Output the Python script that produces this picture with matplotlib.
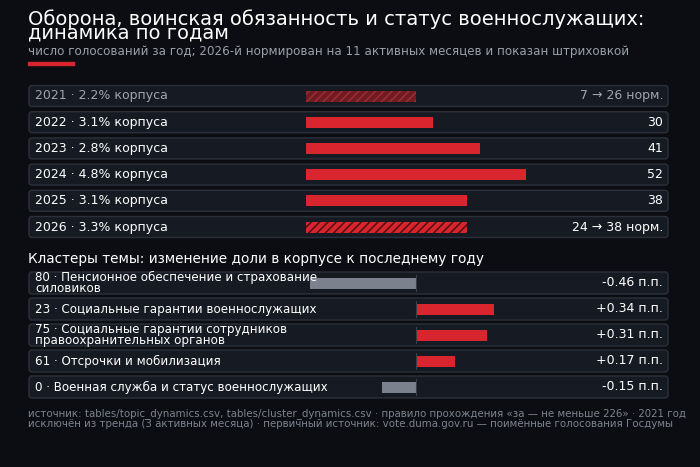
import matplotlib
matplotlib.use("Agg")
import matplotlib.pyplot as plt
from matplotlib.patches import FancyBboxPatch, Rectangle

plt.rcParams['font.family'] = ['DejaVu Sans']
plt.rcParams['hatch.linewidth'] = 1.2

years = ["2021", "2022", "2023", "2024", "2025", "2026"]
shares = ["2.2%", "3.1%", "2.8%", "4.8%", "3.1%", "3.3%"]
values = [26, 30, 41, 52, 38, 38]
labels_right = ["7 → 26 норм.", "30", "41", "52", "38", "24 → 38 норм."]
hatched = [True, False, False, False, False, True]

clusters = ["80 · Пенсионное обеспечение и страхование\nсиловиков",
            "23 · Социальные гарантии военнослужащих",
            "75 · Социальные гарантии сотрудников\nправоохранительных органов",
            "61 · Отсрочки и мобилизация",
            "0 · Военная служба и статус военнослужащих"]
deltas = [-0.46, 0.34, 0.31, 0.17, -0.15]
delta_labels = ["-0.46 п.п.", "+0.34 п.п.", "+0.31 п.п.", "+0.17 п.п.", "-0.15 п.п."]

BG = "#0b0d12"; BOX = "#161a22"; EDGE = "#2b303b"; RED = "#d9262e"; GRAY = "#7b828e"
fig = plt.figure(figsize=(7, 4.67), dpi=100, facecolor=BG)
ax = fig.add_axes([0, 0, 1, 1]); ax.set_xlim(0, 700); ax.set_ylim(467, 0); ax.axis('off')
ax.set_facecolor(BG)

ax.text(28, 19, "Оборона, воинская обязанность и статус военнослужащих:", color="white",
        fontsize=14, va="center")
ax.text(28, 33, "динамика по годам", color="white", fontsize=14, va="center")
ax.text(28, 51, "число голосований за год; 2026-й нормирован на 11 активных месяцев и показан штриховкой",
        color="#9aa0aa", fontsize=8.6, va="center")
ax.add_patch(Rectangle((28, 62), 46, 2.5, color=RED))

def box(y, h):
    ax.add_patch(FancyBboxPatch((29, y - h/2), 639, h, boxstyle="round,pad=0,rounding_size=3",
                                fc=BOX, ec=EDGE, lw=1))

x0 = 306; sc = 4.24
for i, (yr, s, v, lr, hh) in enumerate(zip(years, shares, values, labels_right, hatched)):
    y = 96 + i * 26.2
    box(y, 21)
    tc = "#a0a5ae" if i == 0 else "white"
    ax.text(35, y, f"{yr} · {s} корпуса", color=tc, fontsize=9, va="center")
    ax.text(663, y, lr, color=tc, fontsize=9, va="center", ha="right")
    if hh:
        fc = "#6e1c22" if i == 0 else RED
        hc = "#a02a31" if i == 0 else "#5a0f14"
        ax.barh(y, v * sc, left=x0, height=11, color=fc, hatch="////", edgecolor=hc, lw=0)
    else:
        ax.barh(y, v * sc, left=x0, height=11, color=RED, lw=0)

ax.text(28, 259, "Кластеры темы: изменение доли в корпусе к последнему году", color="white",
        fontsize=9.8, va="center")
z = 416; sc2 = 230
for i, (c, d, dl) in enumerate(zip(clusters, deltas, delta_labels)):
    y = 283 + i * 26
    box(y, 22)
    ax.text(35, y, c, color="white", fontsize=8.6, va="center", linespacing=0.85)
    ax.text(663, y, dl, color="white", fontsize=9, va="center", ha="right")
    ax.barh(y, d * sc2, left=z, height=11, color=RED if d > 0 else GRAY, lw=0)
    ax.plot([z, z], [y - 8, y + 8], color="#3a3f4a", lw=0.8)

ax.text(28, 419, "источник: tables/topic_dynamics.csv, tables/cluster_dynamics.csv · правило прохождения «за — не меньше 226» · 2021 год\n"
        "исключён из тренда (3 активных месяца) · первичный источник: vote.duma.gov.ru — поимённые голосования Госдумы",
        color="#7d838e", fontsize=7.4, va="center", linespacing=1.0)
fig.savefig("out.png", dpi=100, facecolor=BG)
